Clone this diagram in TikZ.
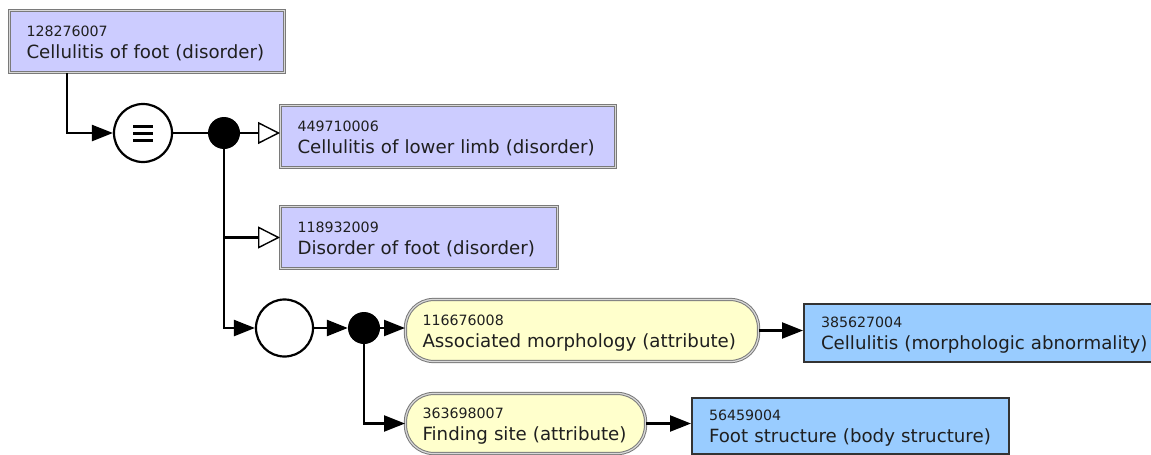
\documentclass[tikz,border=0pt]{standalone}
\usepackage{fontspec}
\setmainfont{DejaVu Sans}
\usetikzlibrary{arrows.meta}
\definecolor{lav}{HTML}{CCCCFF}
\definecolor{attrfill}{HTML}{FFFFCC}
\definecolor{bluefill}{HTML}{99CCFF}
\definecolor{frameout}{HTML}{7A7A7A}
\definecolor{framein}{HTML}{D8D8D8}
\definecolor{darkframe}{HTML}{333333}
\newcommand{\numtxt}[1]{{\fontsize{14.2}{22}\selectfont\rule{0pt}{15pt}\mbox{#1}}}
\newcommand{\nametxt}[1]{\mbox{#1}}
\tikzset{
  boxbase/.style={anchor=north west, align=left, inner xsep=17pt, inner ysep=0pt,
    font=\fontsize{18.2}{22}\selectfont, text=black!88},
  concept/.style={boxbase, rectangle, fill=lav, draw=frameout, double=framein,
    double distance=1.2pt, line width=1pt},
  attrbox/.style={boxbase, rectangle, rounded corners=28pt, fill=attrfill, draw=frameout,
    double=framein, double distance=1.2pt, line width=1pt},
  valbox/.style={boxbase, rectangle, fill=bluefill, draw=darkframe, line width=2pt},
  opcircle/.style={circle, draw=black, fill=white, line width=2.2pt, inner sep=0pt},
  joindot/.style={circle, fill=black, inner sep=0pt, minimum size=32pt},
  conn/.style={draw=black, line width=2.4pt},
  thinconn/.style={draw=black, line width=2pt},
  tri/.style={-{Triangle[length=21pt,width=16pt]}},
  isa/.style={-{Triangle[open,length=22pt,width=22pt,fill=white,line width=1.4pt]}},
}
\begin{document}
\begin{tikzpicture}[x=1pt,y=-1pt]
\useasboundingbox (0,0) rectangle (1151,455);
\clip (0,0) rectangle (1151,455);
\fill[white] (0,0) rectangle (1151,455);

% concepts
\node[concept, minimum width=275pt, minimum height=62pt, text width=241pt] (c1) at (9,10)
  {\numtxt{128276007}\\\nametxt{Cellulitis of foot (disorder)}};
\node[concept, minimum width=335pt, minimum height=62pt, text width=301pt] (c2) at (280,105)
  {\numtxt{449710006}\\\nametxt{Cellulitis of lower limb (disorder)}};
\node[concept, minimum width=277pt, minimum height=62pt, text width=243pt] (c3) at (280,206)
  {\numtxt{118932009}\\\nametxt{Disorder of foot (disorder)}};

% operators
\node[opcircle, minimum size=58pt,
  path picture={
    \foreach \dy in {-7,0,7}
      \draw[line width=3pt] ([xshift=-10pt,yshift=\dy pt]path picture bounding box.center) -- ++(20pt,0);
  }] (eq) at (143,133) {};
\node[joindot] (d1) at (224,133) {};
\node[opcircle, minimum size=57pt] (g) at (284.5,328) {};
\node[joindot] (d2) at (364,328) {};

% attributes and values
\node[attrbox, minimum width=353pt, minimum height=62pt, text width=319pt] (a1) at (405,299)
  {\numtxt{116676008}\\\nametxt{Associated morphology (attribute)}};
\node[valbox, minimum width=356pt, minimum height=58pt, text width=322pt] (c4) at (803,303)
  {\numtxt{385627004}\\\nametxt{Cellulitis (morphologic abnormality)}};
\node[attrbox, minimum width=240pt, minimum height=60pt, text width=206pt] (a2) at (405,393)
  {\numtxt{363698007}\\\nametxt{Finding site (attribute)}};
\node[valbox, minimum width=317pt, minimum height=56pt, text width=283pt] (c5) at (691,397)
  {\numtxt{56459004}\\\nametxt{Foot structure (body structure)}};

% connectors
\draw[conn, tri] ([xshift=58pt]c1.south west) |- (eq.west);
\draw[thinconn] (eq) -- (d1);
\draw[conn, isa] (d1) -- (d1 -| c2.west);
\draw[conn, isa] (d1) |- (c3.west);
\draw[conn, tri] (d1) |- (g.west);
\draw[conn, tri] (g) -- (d2);
\draw[conn, tri] (d2) -- (d2 -| a1.west);
\draw[conn, tri] (a1) -- (a1 -| c4.west);
\draw[conn, tri] (d2) |- (a2.west);
\draw[conn, tri] (a2) -- (a2 -| c5.west);
\end{tikzpicture}
\end{document}
